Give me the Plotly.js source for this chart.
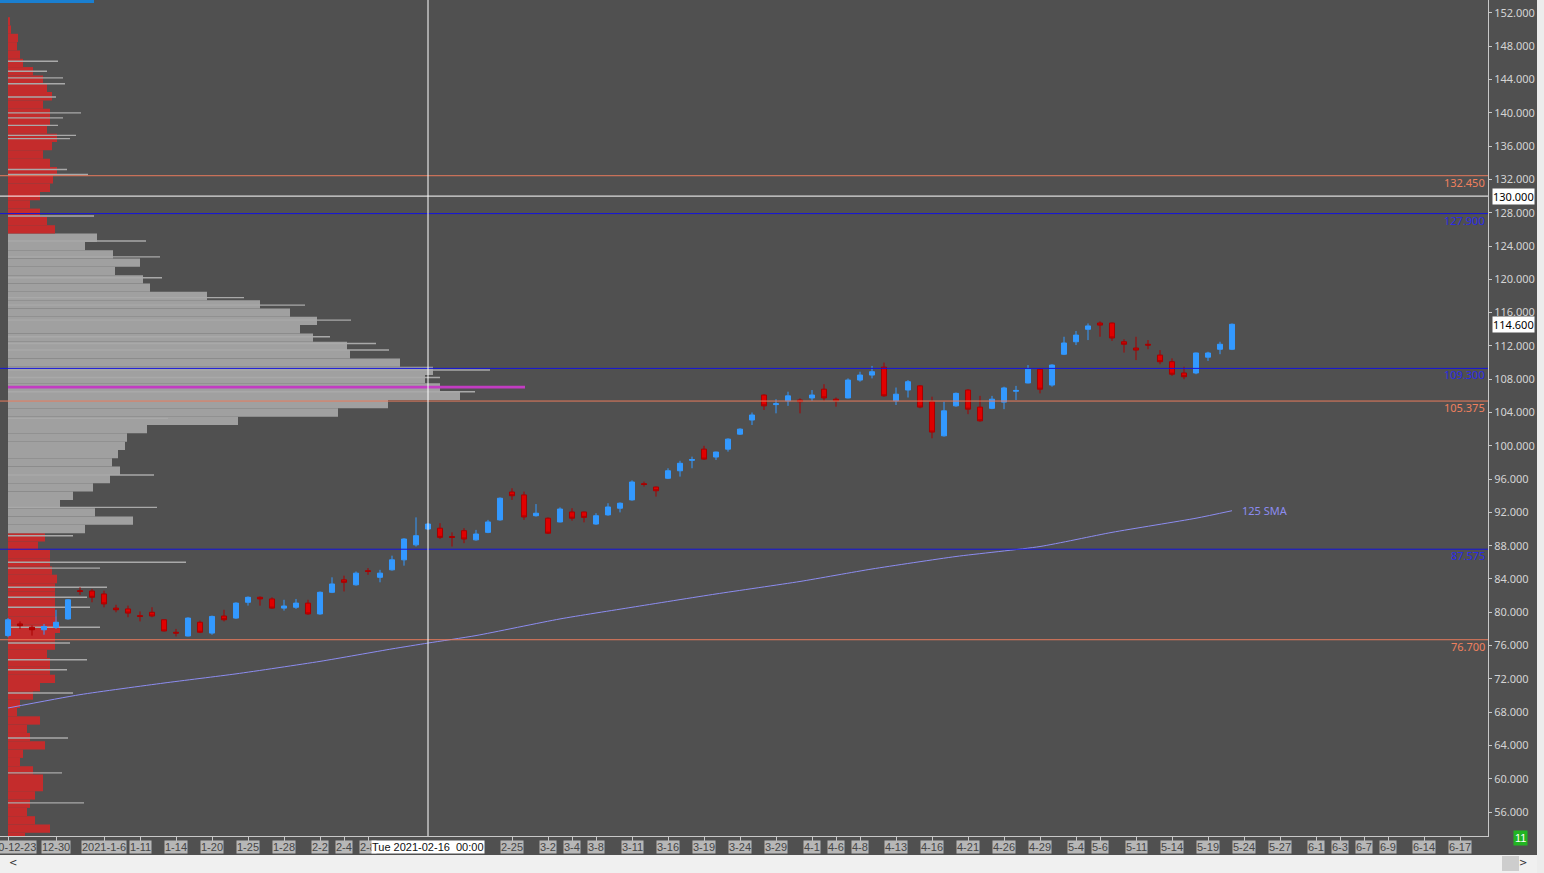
<!DOCTYPE html>
<html>
<head>
<meta charset="utf-8">
<script src="https://cdn.plot.ly/plotly-3.0.1.min.js"></script>
<style>
  html, body { margin: 0; padding: 0; background: #505050; overflow: hidden; }
  #chart { width: 1544px; height: 873px; }
</style>
</head>
<body>
<div id="chart"></div>
<script>
// ---------------- DATA ----------------
// Daily candles, 2020-12-23 .. 2021-05-21 (trading-day index 0..102)
const open  = [77.2,78.6,78.2,77.9,78.2,79.2,82.6,82.55,82.2,80.5,80.4,79.6,80.0,79.1,77.6,77.15,78.8,77.5,79.55,79.3,
               81.2,81.8,81.6,80.5,80.6,81.1,79.8,82.4,83.9,83.3,85.0,84.2,85.1,86.3,88.1,90.0,90.1,89.1,89.8,88.7,
               89.6,91.1,94.45,94.1,91.6,91.3,90.85,92.05,92.05,90.6,91.7,92.5,93.5,95.45,95.05,96.1,97.0,98.25,99.6,98.65,
               99.6,101.4,103.1,106.1,104.95,105.4,105.5,105.75,106.8,105.6,105.75,107.9,108.5,109.45,105.4,106.7,107.2,105.3,101.2,104.8,
               106.7,104.65,104.5,105.25,106.55,107.55,109.2,107.3,111.0,112.5,114.0,114.75,114.75,112.5,111.75,112.2,110.9,110.1,108.75,108.75,
               110.65,111.6,111.6];
const high  = [79.3,78.9,78.4,78.6,80.3,81.6,83.0,82.8,82.6,80.9,80.8,80.1,80.6,79.1,78.0,79.4,79.0,79.6,80.3,81.2,
               81.9,81.9,81.8,81.5,81.6,81.5,82.5,84.2,84.4,84.9,85.3,85.1,86.8,88.9,91.4,90.7,90.7,89.6,90.1,89.9,
               91.1,93.8,94.9,94.5,93.0,91.4,92.6,92.5,92.1,91.9,93.1,93.2,95.85,95.7,95.1,97.3,98.2,98.7,100.0,99.3,
               100.9,102.1,104.0,106.2,105.6,106.5,105.7,106.7,107.4,105.8,108.1,108.9,109.6,110.0,107.0,107.9,107.3,105.9,105.3,106.4,
               106.8,106.0,106.0,107.1,107.2,109.7,109.3,109.8,113.1,113.8,114.7,114.95,114.8,112.8,113.1,112.7,111.5,110.5,109.5,111.2,
               111.3,112.5,114.7];
const low   = [77.0,78.0,77.2,77.3,78.0,79.1,82.1,81.2,80.6,80.0,79.4,78.9,79.4,77.7,77.1,77.1,77.5,77.3,78.9,79.2,
               80.8,80.8,80.4,80.2,80.4,79.7,79.7,82.3,82.5,83.2,84.5,83.6,85.0,85.6,87.9,89.9,88.8,87.9,88.3,88.6,
               89.5,91.0,93.5,91.1,91.5,89.4,90.8,91.0,90.8,90.5,91.6,92.0,93.4,95.1,93.9,96.0,96.3,97.3,98.3,98.3,
               99.3,101.3,102.5,104.3,103.9,104.8,103.9,105.4,105.4,104.7,105.7,107.7,108.1,105.9,104.9,105.8,104.5,100.9,101.1,104.7,
               103.8,102.9,104.4,104.4,105.5,107.5,106.3,107.1,110.9,112.1,112.7,113.1,112.6,111.2,110.3,111.6,109.8,108.4,108.0,108.6,
               110.2,111.0,111.5];
const close = [79.1,78.4,77.9,78.3,78.8,81.5,82.5,81.8,81.0,80.3,79.9,79.5,79.55,77.75,77.5,79.3,77.6,79.5,79.1,81.1,
               81.8,81.6,80.5,80.75,81.1,79.8,82.4,83.4,83.6,84.7,84.9,84.7,86.3,88.8,89.2,90.6,89.0,89.0,88.8,89.4,
               90.85,93.7,94.0,91.45,91.9,89.5,92.4,91.3,91.4,91.6,92.65,93.1,95.65,95.35,94.6,97.0,97.9,98.35,98.4,99.25,
               100.8,102.0,103.7,104.8,105.05,106.0,105.3,106.1,105.75,105.4,107.9,108.5,108.9,106.0,106.2,107.7,104.65,101.65,104.2,106.3,
               104.4,103.0,105.6,106.95,106.65,109.2,106.8,109.7,112.35,113.3,114.4,114.5,112.95,112.2,111.5,112.1,110.1,108.6,108.3,111.15,
               111.15,112.2,114.6];

// 125-period simple moving average, read at sampled candle indices
const smaIdx = [0,6,13,19,26,32,35,39,46,52,59,66,72,79,86,92,99,102];
const smaVal = [68.5,70.1,71.5,72.6,74.1,75.6,76.3,77.2,79.2,80.6,82.2,83.7,85.2,86.7,87.9,89.6,91.3,92.2];

// Date axis labels (trading-day index -> label)
const tickIdx  = [0,4,8,11,14,17,20,23,26,28,30,42,45,47,49,52,55,58,61,64,67,69,71,74,77,80,83,86,89,91,94,97,100,103,106,109,111,113,115,118,121];
const tickText = ['2020-12-23','12-30','2021-1-6','1-11','1-14','1-20','1-25','1-28','2-2','2-4','2-8','2-25','3-2','3-4','3-8','3-11','3-16','3-19','3-24','3-29',
                  '4-1','4-6','4-8','4-13','4-16','4-21','4-26','4-29','5-4','5-6','5-11','5-14','5-19','5-24','5-27','6-1','6-3','6-7','6-9','6-14','6-17'];

// Volume profile (price bin -> relative volume)
const profPrice = [];
for (let p = 53; p <= 151; p++) profPrice.push(p);
const profVol = [17,42,27,19,22,27,35,35,25,12,15,37,22,19,32,9,12,25,32,47,
                 42,42,39,47,47,52,49,47,47,47,47,49,44,42,42,30,37,77,125,87,
                 52,65,85,102,112,104,110,117,119,139,230,330,380,452,432,417,425,392,342,339,
                 305,292,309,282,252,199,142,135,107,132,105,77,89,47,39,32,22,32,42,45,
                 49,42,35,44,49,39,42,42,35,44,39,35,25,15,12,9,10,3,2];
const valueAreaLow = 89.5, valueAreaHigh = 125.6;
// Secondary profile (thin lines)
const lineProfPrice = [146.2,145.0,144.2,143.5,141.9,140.0,139.4,138.5,137.3,136.9,133.2,132.6,127.6,124.6,122.7,120.2,117.8,116.9,115.1,113.1,
                       112.3,111.5,109.1,108.2,106.5,103.3,96.5,92.6,89.2,86.0,85.3,83.0,81.8,80.6,78.2,76.3,74.3,73.1,70.3,64.9,60.7,57.1];
const lineProfVol   = [50,39,55,57,48,73,55,50,68,62,59,80,86,138,152,154,236,297,343,322,
                       368,381,482,432,467,160,146,149,65,178,92,99,79,82,92,62,79,59,65,60,54,76];
const pocPrice = 107.05, pocVol = 517;

// Horizontal levels
const levelPrice = [132.45, 127.9, 109.3, 105.375, 87.575, 76.7];
const levelType  = ['r','b','b','r','b','r'];
const crossPrice = 130.0, crossIdx = 35, crossLabel = 'Tue 2021-02-16  00:00';
const lastPrice = close[close.length - 1];

// ---------------- STYLE ----------------
const BG = '#505050';
const AX = '#c8c8c8';
const lvlLine = {r: '#e87a5c', b: '#1414dc'};
const lvlText = {r: '#f0805e', b: '#2a2ae6'};
const idx = open.map((_, i) => i);

const traces = [
  { // main volume profile
    type: 'bar', orientation: 'h', y: profPrice, x: profVol, width: 1, base: 0,
    xaxis: 'x', yaxis: 'y',
    marker: { color: profPrice.map(p => (p >= valueAreaLow && p <= valueAreaHigh) ? '#a0a0a0' : '#c42c2c'), line: {width: 0} },
    hoverinfo: 'skip', showlegend: false
  },
  { // thin-line profile
    type: 'bar', orientation: 'h', y: lineProfPrice, x: lineProfVol, width: 0.17, base: 0,
    xaxis: 'x', yaxis: 'y',
    marker: { color: '#a9a9a9', line: {width: 0} }, hoverinfo: 'skip', showlegend: false
  },
  { // POC
    type: 'bar', orientation: 'h', y: [pocPrice], x: [pocVol], width: 0.32, base: 0,
    xaxis: 'x', yaxis: 'y',
    marker: { color: '#c23cc2', line: {width: 0} }, hoverinfo: 'skip', showlegend: false
  },
  { // 125 SMA
    type: 'scatter', mode: 'lines', x: smaIdx, y: smaVal, xaxis: 'x2', yaxis: 'y',
    line: { color: '#8c8cf0', width: 1, shape: 'spline', smoothing: 0.6 }, hoverinfo: 'skip', showlegend: false
  },
  {
    type: 'candlestick', x: idx, open: open, high: high, low: low, close: close,
    xaxis: 'x2', yaxis: 'y', whiskerwidth: 0,
    increasing: { line: { color: '#3399ff', width: 1 }, fillcolor: '#3399ff' },
    decreasing: { line: { color: '#a80000', width: 1 }, fillcolor: '#e00000' },
    hoverinfo: 'skip', showlegend: false
  }
];

const shapes = [];
const annotations = [];

levelPrice.forEach((p, k) => {
  shapes.push({ type: 'line', xref: 'paper', x0: 0, x1: 1, yref: 'y', y0: p, y1: p,
                line: { color: lvlLine[levelType[k]], width: 1 }, layer: 'above' });
  annotations.push({ xref: 'paper', x: 1, xanchor: 'right', xshift: -1, yref: 'y', y: p, yanchor: 'top', yshift: 3,
                     text: p.toFixed(3), showarrow: false,
                     font: { family: 'Noto Sans', size: 11, color: lvlText[levelType[k]] } });
});
// crosshair
shapes.push({ type: 'line', xref: 'paper', x0: 0, x1: 1, yref: 'y', y0: crossPrice, y1: crossPrice,
              line: { color: '#ffffff', width: 1 }, layer: 'above' });
shapes.push({ type: 'line', xref: 'x2', x0: crossIdx, x1: crossIdx, yref: 'paper', y0: 0, y1: 1,
              line: { color: '#ffffff', width: 1 }, layer: 'above' });
// window chrome: scrollbar, right strip, top-left tab
shapes.push({ type: 'rect', xref: 'paper', yref: 'paper', x0: 0, x1: 1544/1488, y0: -(873-836)/836, y1: -(855-836)/836,
              fillcolor: '#f0f0f0', line: { width: 0 }, layer: 'above' });
shapes.push({ type: 'rect', xref: 'paper', yref: 'paper', x0: 1537/1488, x1: 1544/1488, y0: -(873-836)/836, y1: 1,
              fillcolor: '#ececec', line: { width: 0 }, layer: 'above' });
shapes.push({ type: 'rect', xref: 'paper', yref: 'paper', x0: 1502/1488, x1: 1519/1488, y0: -(871-836)/836, y1: -(856-836)/836,
              fillcolor: '#cdcdcd', line: { width: 0 }, layer: 'above' });
shapes.push({ type: 'rect', xref: 'paper', yref: 'paper', x0: 0, x1: 94/1488, y0: 1 - 3/836, y1: 1,
              fillcolor: '#1a7fd0', line: { width: 0 }, layer: 'above' });

// date labels
tickIdx.forEach((t, k) => {
  annotations.push({ xref: 'x2', x: t, yref: 'paper', y: 0, yanchor: 'top', yshift: -4,
                     text: tickText[k], showarrow: false, bgcolor: '#b7b7b7', borderpad: 0,
                     font: { family: 'Liberation Sans Narrow, Liberation Sans', size: 11, color: '#454545' } });
});
annotations.push({ xref: 'x2', x: crossIdx, yref: 'paper', y: 0, yanchor: 'top', yshift: -4,
                   text: crossLabel.replace(/ /g, '&nbsp;'), showarrow: false, bgcolor: '#ffffff', borderpad: 0,
                   font: { family: 'Liberation Sans Narrow, Liberation Sans', size: 11, color: '#111111' } });
// axis price boxes
[crossPrice, lastPrice].forEach(p => {
  annotations.push({ xref: 'paper', x: 1, xanchor: 'left', xshift: 4, yref: 'y', y: p,
                     text: p.toFixed(3), showarrow: false, bgcolor: '#ffffff', borderpad: 0,
                     font: { family: 'Noto Sans', size: 11, color: '#000000' } });
});
// SMA label
annotations.push({ xref: 'x2', x: smaIdx[smaIdx.length - 1], yref: 'y', y: smaVal[smaVal.length - 1],
                   xanchor: 'left', xshift: 8, text: '125 SMA', showarrow: false,
                   font: { family: 'Noto Sans', size: 11, color: '#8c8cf0' } });
// status box & scroll arrows
annotations.push({ xref: 'paper', x: 1528/1488, yref: 'paper', y: -(846.5-836)/836, text: '11', showarrow: false,
                   bgcolor: '#22b422', borderpad: 1, font: { family: 'Liberation Sans Narrow, Liberation Sans', size: 11, color: '#ffffff' } });
annotations.push({ xref: 'paper', x: 7/1488, yref: 'paper', y: -(862-836)/836, yanchor: 'middle', text: '<', showarrow: false,
                   font: { family: 'DejaVu Sans', size: 10, color: '#333333' } });
annotations.push({ xref: 'paper', x: 1529/1488, yref: 'paper', y: -(862-836)/836, yanchor: 'middle', text: '>', showarrow: false,
                   font: { family: 'DejaVu Sans', size: 10, color: '#333333' } });

const layout = {
  width: 1544, height: 873,
  margin: { l: 0, r: 56, t: 0, b: 37, pad: 0 },
  paper_bgcolor: BG, plot_bgcolor: BG,
  showlegend: false, dragmode: false, boxgap: 0.4, barmode: 'overlay',
  xaxis: { range: [-8, 1480], showgrid: false, zeroline: false, showticklabels: false, ticks: '', showline: false, fixedrange: true },
  xaxis2: { overlaying: 'x', anchor: 'y', side: 'bottom', range: [-8/12, 1480/12], showgrid: false, zeroline: false,
            tickvals: tickIdx, showticklabels: false, ticks: 'outside', ticklen: 4, tickcolor: AX,
            showline: true, linecolor: AX, linewidth: 1, rangeslider: { visible: false }, fixedrange: true },
  yaxis: { side: 'right', range: [53.12, 153.56], dtick: 4, tick0: 0, tickformat: '.3f', showgrid: false, zeroline: false,
           ticks: 'outside', ticklen: 3, tickcolor: AX, showline: true, linecolor: AX, linewidth: 1,
           tickfont: { family: 'Noto Sans', size: 11, color: '#d4d4d4' }, fixedrange: true },
  shapes: shapes, annotations: annotations,
  font: { family: 'Noto Sans' }
};

Plotly.newPlot('chart', traces, layout, { staticPlot: true, displayModeBar: false });
</script>
</body>
</html>
